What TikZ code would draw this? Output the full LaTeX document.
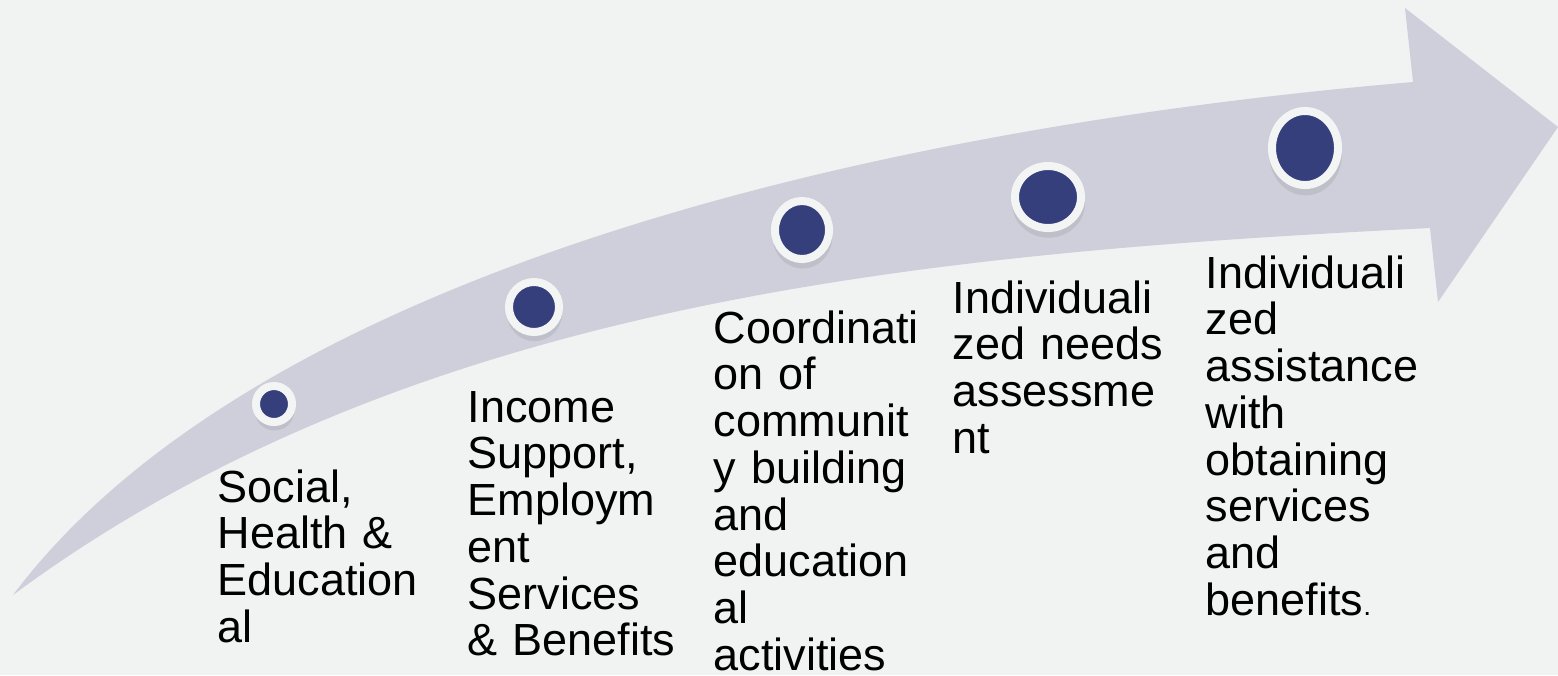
\documentclass[tikz,border=0pt]{standalone}
\usepackage{fontspec}
\setmainfont{Liberation Sans}
\usepackage{tikz}
\usetikzlibrary{shapes.geometric, shadows}
\definecolor{bgcol}{RGB}{241,242,242}
\definecolor{bandcol}{RGB}{206,207,218}
\definecolor{navy}{RGB}{53,63,124}
\definecolor{ringcol}{RGB}{243,244,244}
\newcommand{\stagefont}{\fontsize{12.8}{13.3}\selectfont}

\begin{document}
\begin{tikzpicture}[x=0.01cm, y=-0.01cm]
\tikzstyle{stage}=[ellipse, fill=navy, draw=ringcol, line width=0.8mm, inner sep=0pt,
  drop shadow={opacity=0.2, shadow scale=1.1, shadow xshift=0.05mm, shadow yshift=-0.6mm}]
\tikzstyle{caption}=[anchor=base west, inner sep=0pt, text width=2.3cm, align=left, font=\stagefont]
\fill[bgcol] (0,0) rectangle (1558,675);
\useasboundingbox (0,0) rectangle (1558,675);
% curved band with its head
\fill[bandcol] (13,595) .. controls (250,280) and (850,130) .. (1413,82)
  -- (1405,8) -- (1558,127) -- (1438,302) -- (1430,228)
  .. controls (930,253) and (413,299) .. (13,595) -- cycle;
% dots along the band
\node[stage, minimum width=0.36cm, minimum height=0.36cm] (S1) at (274,404) {};
\node[stage, minimum width=0.50cm, minimum height=0.50cm] (S2) at (534,307) {};
\node[stage, minimum width=0.54cm, minimum height=0.58cm] (S3) at (802,230) {};
\node[stage, minimum width=0.66cm, minimum height=0.62cm] (S4) at (1048,197) {};
\node[stage, minimum width=0.66cm, minimum height=0.74cm] (S5) at (1305,148) {};
% texts
\node[caption] (T1) at (217,502) {Social,\\Health \&\\Education\\al};
\node[caption] (T2) at (467,422) {Income\\Support,\\Employm\\ent\\Services\\\& Benefits};
\node[caption] (T3) at (713,343) {Coordinati\\on of\\communit\\y building\\and\\education\\al\\activities};
\node[caption] (T4) at (952,313) {Individuali\\zed needs\\assessme\\nt};
\node[caption] (T5) at (1205,288) {Individuali\\zed\\assistance\\with\\obtaining\\services\\and\\benefits{\fontsize{8}{8}\selectfont .}};

\end{tikzpicture}
\end{document}
